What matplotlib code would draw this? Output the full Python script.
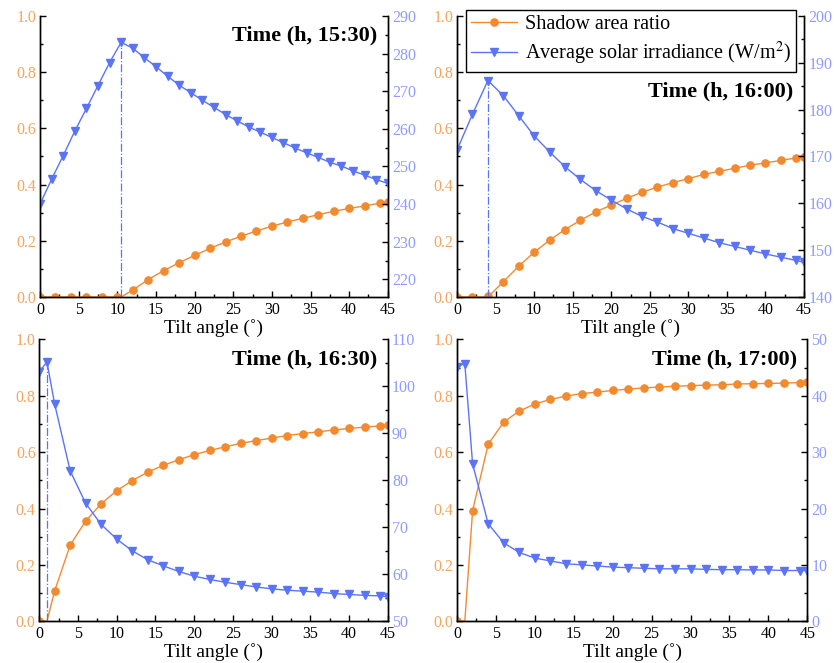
import numpy as np
import matplotlib
matplotlib.use("Agg")
import matplotlib.pyplot as plt
from matplotlib.ticker import MultipleLocator, FormatStrFormatter
from matplotlib.lines import Line2D

plt.rcParams['font.family'] = ['Liberation Serif', 'DejaVu Serif']
plt.rcParams['mathtext.fontset'] = 'stix'

ORANGE = '#F28A30'
BLUE = '#5B74F7'
ORANGE_TXT = '#F7A45E'
BLUE_TXT = '#8E9BFF'

# time labels for the four panels
times = ['15:30', '16:00', '16:30', '17:00']

# shadow area ratio (left axis)
shade_x = [0, 2, 4, 6, 8, 10, 12, 14, 16, 18, 20, 22, 24, 26, 28, 30,
           32, 34, 36, 38, 40, 42, 44, 45]
shade_1530 = [0, 0, 0, 0, 0, 0, 0.025, 0.062, 0.094, 0.122, 0.148, 0.173,
              0.196, 0.216, 0.235, 0.252, 0.267, 0.280, 0.293, 0.305,
              0.315, 0.324, 0.334, 0.337]
shade_1600 = [0, 0, 0.002, 0.054, 0.110, 0.159, 0.202, 0.240, 0.273, 0.303,
              0.327, 0.351, 0.373, 0.391, 0.407, 0.421, 0.436, 0.447,
              0.458, 0.469, 0.477, 0.486, 0.495, 0.497]
shade_1630 = [0, 0.108, 0.270, 0.356, 0.417, 0.463, 0.499, 0.529, 0.553,
              0.573, 0.591, 0.606, 0.619, 0.631, 0.641, 0.650, 0.659,
              0.666, 0.672, 0.679, 0.684, 0.689, 0.693, 0.696]
shade_1700 = [0, 0.392, 0.628, 0.707, 0.746, 0.771, 0.787, 0.799, 0.808,
              0.813, 0.819, 0.824, 0.828, 0.831, 0.834, 0.836, 0.838,
              0.839, 0.842, 0.843, 0.844, 0.845, 0.847, 0.848]

# average solar irradiance (right axis)
irr_x_1530 = [0, 1.5, 3, 4.5, 6, 7.5, 9, 10.5, 12, 13.5, 15, 16.5, 18, 19.5,
              21, 22.5, 24, 25.5, 27, 28.5, 30, 31.5, 33, 34.5, 36, 37.5,
              39, 40.5, 42, 43.5, 45]
irr_1530 = [240.0, 246.6, 252.9, 259.4, 265.4, 271.5, 277.6, 283.0, 281.4,
            278.9, 276.5, 274.0, 271.6, 269.6, 267.6, 265.7, 263.8, 262.1,
            260.5, 259.1, 257.7, 256.3, 254.9, 253.6, 252.4, 251.1, 250.1,
            248.8, 247.7, 246.5, 245.5]
irr_x_1600 = [0, 2, 4, 6, 8, 10, 12, 14, 16, 18, 20, 22, 24, 26, 28, 30,
              32, 34, 36, 38, 40, 42, 44, 45]
irr_1600 = [171.4, 179.0, 186.2, 183.0, 178.7, 174.4, 171.0, 167.8, 165.1,
            162.7, 160.7, 158.8, 157.2, 156.0, 154.6, 153.6, 152.6, 151.6,
            150.8, 150.0, 149.2, 148.5, 147.8, 147.4]
irr_x_late = [0, 1, 2, 4, 6, 8, 10, 12, 14, 16, 18, 20, 22, 24, 26, 28, 30,
              32, 34, 36, 38, 40, 42, 44, 45]
irr_1630 = [103.1, 105.2, 96.2, 82.0, 75.1, 70.6, 67.5, 65.0, 63.1, 61.8,
            60.6, 59.6, 58.9, 58.3, 57.8, 57.3, 56.9, 56.6, 56.4, 56.2,
            55.9, 55.7, 55.5, 55.4, 55.2]
irr_1700 = [45.2, 45.7, 27.9, 17.3, 13.9, 12.2, 11.2, 10.7, 10.2, 10.0, 9.8,
            9.6, 9.5, 9.4, 9.3, 9.3, 9.3, 9.2, 9.15, 9.15, 9.1, 9.1, 9.0,
            9.0, 9.0]

# tilt where shading starts (= irradiance peak), and whether to mark it
onset = [10.5, 4, 1, 1]
mark_peak = [True, True, True, False]

right_lims = [(215.3, 290), (140, 200), (50, 110), (0, 50)]
right_ticks = [(220, 290), (140, 200), (50, 110), (0, 50)]

shades = [shade_1530, shade_1600, shade_1630, shade_1700]
irr_xs = [irr_x_1530, irr_x_1600, irr_x_late, irr_x_late]
irrs = [irr_1530, irr_1600, irr_1630, irr_1700]

positions = [
    [0.048, 0.552, 0.417, 0.424],
    [0.548, 0.552, 0.416, 0.424],
    [0.047, 0.063, 0.418, 0.425],
    [0.548, 0.063, 0.420, 0.425],
]
title_y = [0.93, 0.73, 0.93, 0.93]

fig = plt.figure(figsize=(8.34, 6.63), dpi=100)

for i in range(4):
    ax = fig.add_axes(positions[i])
    ax2 = ax.twinx()

    # orange: fitted line starts at the onset angle, markers at data points
    lx = [x for x in shade_x if x < onset[i]] + [onset[i]] + \
         [x for x in shade_x if x > onset[i]]
    ly = [0] * (len(lx) - len([x for x in shade_x if x > onset[i]])) + \
         [v for x, v in zip(shade_x, shades[i]) if x > onset[i]]
    ax.plot(lx, ly, '-', color=ORANGE, lw=1.0)
    ax.plot(shade_x, shades[i], 'o', color=ORANGE, ms=5.2, mec=ORANGE)

    ax2.plot(irr_xs[i], irrs[i], '-', color=BLUE, lw=1.0)
    ax2.plot(irr_xs[i], irrs[i], 'v', color=BLUE, ms=5.8, mec=BLUE)

    if mark_peak[i]:
        peak = irrs[i][irr_xs[i].index(onset[i])]
        ax2.plot([onset[i], onset[i]], [right_lims[i][0], peak], '-.',
                 color=BLUE, lw=0.9)

    ax.set_xlim(0, 45)
    ax.set_ylim(0, 1.0)
    ax2.set_ylim(*right_lims[i])

    ax.xaxis.set_major_locator(MultipleLocator(5))
    ax.xaxis.set_minor_locator(MultipleLocator(2.5))
    ax.yaxis.set_major_locator(MultipleLocator(0.2))
    ax.yaxis.set_minor_locator(MultipleLocator(0.1))
    ax.yaxis.set_major_formatter(FormatStrFormatter('%.1f'))
    ax2.set_yticks(np.arange(right_ticks[i][0], right_ticks[i][1] + 1, 10))
    ax2.yaxis.set_minor_locator(MultipleLocator(5))

    for a in (ax, ax2):
        a.spines['top'].set_visible(False)
        for s in a.spines.values():
            s.set_linewidth(1.0)
        a.tick_params(which='both', direction='in', width=1.0)
        a.tick_params(which='major', length=4)
        a.tick_params(which='minor', length=2.5)
    ax.tick_params(axis='x', labelsize=11.5, pad=3.5)
    ax.tick_params(axis='y', labelsize=11.5, labelcolor=ORANGE_TXT, pad=2.5)
    ax2.tick_params(axis='y', labelsize=11.5, labelcolor=BLUE_TXT, pad=3)

    ax.set_xlabel('Tilt angle (˚)', fontsize=14, labelpad=0.5)
    ax.text(0.97, title_y[i], 'Time (h, %s)' % times[i], transform=ax.transAxes,
            ha='right', va='center', fontsize=16, fontweight='bold')

    if i == 1:
        h1 = Line2D([], [], color=ORANGE, marker='o', ms=5.2, lw=1.0)
        h2 = Line2D([], [], color=BLUE, marker='v', ms=5.8, lw=1.0)
        leg = ax2.legend([h1, h2], ['Shadow area ratio',
                                    'Average solar irradiance (W/m$^2$)'],
                         loc='upper left', bbox_to_anchor=(0.025, 1.022),
                         fontsize=14.5, frameon=True, fancybox=False,
                         edgecolor='black', framealpha=1, borderpad=0.25,
                         handlelength=2.3, labelspacing=0.3,
                         handletextpad=0.4, borderaxespad=0.0)
        leg.get_frame().set_linewidth(1.0)

fig.savefig('out.png', dpi=100)
